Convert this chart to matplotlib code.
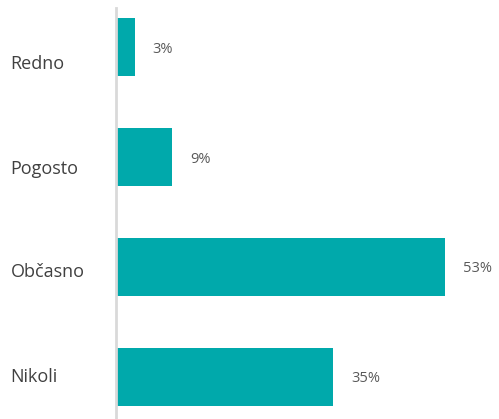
import matplotlib.pyplot as plt

kategorije = ['Redno', 'Pogosto', 'Občasno', 'Nikoli']
odstotki = [3, 9, 53, 35]
oznake = ['3%', '9%', '53%', '35%']

plt.rcParams['font.family'] = ['Open Sans', 'DejaVu Sans']

fig = plt.figure(figsize=(4.99, 4.19), dpi=100)
ax = fig.add_axes([116 / 499, 0, 372 / 499, 411 / 419])

y = range(len(kategorije))
bars = ax.barh(y, odstotki, height=0.527, color='#00A9AB')

for b, lab in zip(bars, oznake):
    ax.text(b.get_width() + 2.9, b.get_y() + b.get_height() / 2 + 0.02, lab,
            va='center', ha='left', fontsize=10.5, color='#595959')

# oznake kategorij niso centrirane na stolpce (kot v izvirniku)
pomik = [0.136, 0.09, 0.027, -0.018]
ax.set_xlim(0, 60)
ax.set_ylim(3.386, -0.3545)
ax.set_yticks([i + p for i, p in zip(y, pomik)])
ax.set_yticklabels(kategorije, ha='left', fontsize=13, color='#404040')
ax.tick_params(axis='y', length=0, pad=76)
ax.set_xticks([])

for s in ['top', 'right', 'bottom']:
    ax.spines[s].set_visible(False)
ax.spines['left'].set_color('#D9D9D9')
ax.spines['left'].set_linewidth(2)

fig.savefig('out.png', dpi=100)
